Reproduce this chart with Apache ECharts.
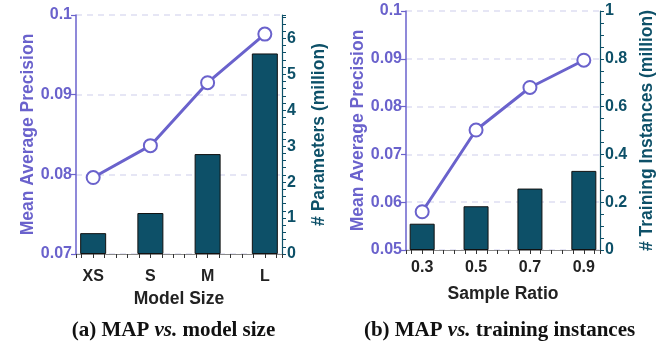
<!DOCTYPE html>
<html>
<head>
<meta charset="utf-8">
<script src="https://cdn.jsdelivr.net/npm/echarts@6/dist/echarts.min.js"></script>
<style>
html,body{margin:0;padding:0;background:#fff;}
#c{width:665px;height:343px;}
</style>
</head>
<body>
<div id="c"></div>
<script>
// ---- data ----
var modelSizes = ['XS', 'S', 'M', 'L'];
var mapBySize = [0.0796, 0.0836, 0.0915, 0.0976];
var paramsMillion = [0.58, 1.14, 2.78, 5.58];

var sampleRatios = ['0.3', '0.5', '0.7', '0.9'];
var mapByRatio = [0.0580, 0.0751, 0.0840, 0.0897];
var trainInstancesMillion = [0.110, 0.183, 0.257, 0.331];

var captionA = ['(a) MAP ', 'vs.', ' model size'];
var captionB = ['(b) MAP ', 'vs.', ' training instances'];

// ---- styles ----
var PURPLE = '#6a62cc';
var TEAL = '#0d5068';
var DARK = '#222222';
var FONT = '"Liberation Sans", Arial, sans-serif';
var SERIF = '"Liberation Serif", serif';

function pairs(vals) { return vals.map(function (v, i) { return [i, v]; }); }
function isMultiple(v, step) { var q = v / step; return Math.abs(q - Math.round(q)) < 1e-6; }
function catFormatter(cats) {
  return function (v) {
    if (!isMultiple(v, 1)) return '';
    var i = Math.round(v);
    return (i >= 0 && i < cats.length) ? cats[i] : '';
  };
}

function xAxisDef(grid, cats, name, nameGap, margin) {
  return {
    type: 'value', gridIndex: grid, min: -0.3, max: 3.3, splitNumber: 18,
    minInterval: 0.2, maxInterval: 0.2,
    name: name, nameLocation: 'middle', nameGap: nameGap,
    nameTextStyle: { fontFamily: FONT, fontWeight: 'bold', fontSize: 17.5, color: DARK },
    axisLine: { show: true, onZero: false, lineStyle: { color: '#8a8a8a', width: 1 } },
    axisTick: { show: true, length: 4, lineStyle: { color: '#333', width: 1 } },
    axisLabel: { formatter: catFormatter(cats), fontFamily: FONT, fontWeight: 'bold', fontSize: 16, color: DARK, margin: margin, showMinLabel: true, showMaxLabel: true },
    splitLine: { show: false }
  };
}

function leftY(grid, min, max, nameGap) {
  return {
    type: 'value', gridIndex: grid, position: 'left', min: min, max: max, interval: 0.01,
    name: 'Mean Average Precision', nameLocation: 'middle', nameGap: nameGap,
    nameTextStyle: { fontFamily: FONT, fontWeight: 'bold', fontSize: 17.5, color: PURPLE },
    axisLine: { show: true, onZero: false, lineStyle: { color: PURPLE, width: 1.5 } },
    axisTick: { show: true, length: 5, lineStyle: { color: PURPLE, width: 1.2 } },
    axisLabel: { fontFamily: FONT, fontWeight: 'bold', fontSize: 16, color: PURPLE, margin: 4,
      formatter: function (v) { return String(+v.toFixed(3)); } },
    splitLine: { show: true, lineStyle: { color: '#dedef2', width: 1.5, type: [6, 5] } }
  };
}

function rightY(grid, max, step, labelStep, name, nameGap) {
  return {
    type: 'value', gridIndex: grid, position: 'right', min: 0, max: max, interval: step,
    name: name, nameLocation: 'middle', nameGap: nameGap,
    nameTextStyle: { fontFamily: FONT, fontWeight: 'bold', fontSize: 17.5, color: TEAL },
    axisLine: { show: true, onZero: false, lineStyle: { color: TEAL, width: 1.2 } },
    axisTick: { show: true, length: 4, lineStyle: { color: TEAL, width: 1 } },
    axisLabel: { fontFamily: FONT, fontWeight: 'bold', fontSize: 16, color: TEAL, margin: 5,
      showMaxLabel: true,
      formatter: function (v) { return isMultiple(v, labelStep) ? String(+v.toFixed(2)) : ''; } },
    splitLine: { show: false }
  };
}

function barSeries(x, y, vals, width) {
  return {
    type: 'bar', xAxisIndex: x, yAxisIndex: y, data: pairs(vals), barWidth: width, z: 2,
    itemStyle: { color: TEAL, borderColor: '#111', borderWidth: 1 }
  };
}
function lineSeries(x, y, vals) {
  return {
    type: 'line', xAxisIndex: x, yAxisIndex: y, data: pairs(vals), z: 5,
    symbol: 'emptyCircle', symbolSize: 13,
    lineStyle: { color: PURPLE, width: 3 },
    itemStyle: { color: PURPLE, borderColor: PURPLE, borderWidth: 3 }
  };
}

function caption(parts, cx) {
  var rich = {
    b: { fontFamily: SERIF, fontWeight: 'bold', fontSize: 21, color: '#111' },
    i: { fontFamily: SERIF, fontWeight: 'bold', fontStyle: 'italic', fontSize: 21, color: '#111' }
  };
  return { text: '{b|' + parts[0] + '}{i|' + parts[1] + '}{b|' + parts[2] + '}', left: cx, top: 315, textAlign: 'center', textStyle: { rich: rich } };
}

var chart = echarts.init(document.getElementById('c'), null, { renderer: 'canvas' });
chart.setOption({
  animation: false,
  backgroundColor: '#fff',
  title: [caption(captionA, 168.5), caption(captionB, 494.5)],
  grid: [
    { left: 76, right: 665 - 282, top: 15, bottom: 343 - 254 },
    { left: 406, right: 665 - 600, top: 11, bottom: 343 - 250 }
  ],
  xAxis: [
    xAxisDef(0, modelSizes, 'Model Size', 33, 15),
    xAxisDef(1, sampleRatios, 'Sample Ratio', 35, 10)
  ],
  yAxis: [
    leftY(0, 0.07, 0.1, 38),
    rightY(0, 6.65, 0.2, 1, '# Parameters (million)', 28),
    leftY(1, 0.05, 0.1, 38),
    rightY(1, 1, 0.05, 0.2, '# Training Instances (million)', 38)
  ],
  series: [
    barSeries(0, 1, paramsMillion, 26),
    lineSeries(0, 0, mapBySize),
    barSeries(1, 3, trainInstancesMillion, 25),
    lineSeries(1, 2, mapByRatio)
  ]
});
</script>
</body>
</html>
